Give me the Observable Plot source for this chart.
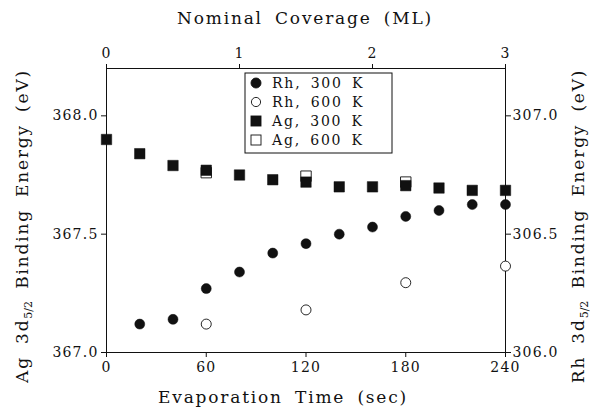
<!DOCTYPE html>
<html>
<head>
<meta charset="utf-8">
<script src="https://cdn.jsdelivr.net/npm/d3@7"></script>
<script src="https://cdn.jsdelivr.net/npm/@observablehq/plot@0.6"></script>
<style>
  html, body { margin: 0; padding: 0; background: #fff; }
  svg { display: block; }
</style>
</head>
<body>
<div id="chart"></div>
<script>
// ---- data ----
const agTime300 = [0, 20, 40, 60, 80, 100, 120, 140, 160, 180, 200, 220, 240];
const ag300     = [367.90, 367.84, 367.79, 367.77, 367.75, 367.73, 367.72, 367.70, 367.70, 367.705, 367.695, 367.685, 367.685];
const agTime600 = [60, 120, 180];
const ag600     = [367.76, 367.745, 367.72];
const rhTime300 = [20, 40, 60, 80, 100, 120, 140, 160, 180, 200, 220, 240];
const rh300     = [306.12, 306.14, 306.27, 306.34, 306.42, 306.46, 306.50, 306.53, 306.575, 306.60, 306.625, 306.625];
const rhTime600 = [60, 120, 180, 240];
const rh600     = [306.12, 306.18, 306.295, 306.365];

const timeTicks = [0, 60, 120, 180, 240];
const coverageTicks = [0, 1, 2, 3];
const secPerML = 80;
const agTicks = [367.0, 367.5, 368.0];
const rhTicks = [306.0, 306.5, 307.0];
const rhOffset = 61; // Rh axis 306.0 aligned with Ag axis 367.0
const legendLabels = ["Rh, 300 K", "Rh, 600 K", "Ag, 300 K", "Ag, 600 K"];

const zip = (xs, ys) => xs.map((t, i) => ({t, v: ys[i]}));
const ag300D = zip(agTime300, ag300);
const ag600D = zip(agTime600, ag600);
const rh300D = zip(rhTime300, rh300).map(d => ({t: d.t, v: d.v + rhOffset}));
const rh600D = zip(rhTime600, rh600).map(d => ({t: d.t, v: d.v + rhOffset}));

const font = "DejaVu Serif";
const ink = "#111";

const chart = Plot.plot({
  width: 600,
  height: 409,
  marginLeft: 106,
  marginRight: 95,
  marginTop: 68,
  marginBottom: 57,
  style: {fontFamily: font, fontSize: "14px", color: ink, background: "#fff", letterSpacing: "1.2px"},
  x: {domain: [0, 240]},
  y: {domain: [367.0, 368.2]},
  marks: [
    Plot.frame({stroke: ink, strokeWidth: 1}),
    Plot.axisX({anchor: "bottom", ticks: timeTicks, tickSize: 5, tickPadding: 5, label: null, stroke: ink}),
    Plot.axisX({anchor: "top", ticks: coverageTicks.map(c => c * secPerML), tickFormat: d => String(d / secPerML), tickSize: 5, tickPadding: 6, label: null}),
    Plot.axisY({anchor: "left", ticks: agTicks, tickFormat: d => d.toFixed(1), tickSize: 5, tickPadding: 3, label: null}),
    Plot.axisY({anchor: "right", ticks: rhTicks.map(r => r + rhOffset), tickFormat: d => (d - rhOffset).toFixed(1), tickSize: 5, tickPadding: 2, label: null}),
    Plot.dot(rh600D, {x: "t", y: "v", r: 5, fill: "#fff", stroke: ink, strokeWidth: 0.9}),
    Plot.dot(rh300D, {x: "t", y: "v", r: 5, fill: ink, stroke: ink, strokeWidth: 0.5}),
    Plot.dot(ag600D, {x: "t", y: "v", r: 5.9, symbol: "square", fill: "#fff", stroke: ink, strokeWidth: 0.9}),
    Plot.dot(ag300D, {x: "t", y: "v", r: 5.9, symbol: "square", fill: ink, stroke: ink, strokeWidth: 0.5})
  ]
});

const svg = d3.select(chart);
const titleStyle = s => s.attr("font-family", font).attr("font-size", 17).attr("fill", ink)
  .attr("letter-spacing", "1.8px").attr("word-spacing", "5px").attr("text-anchor", "middle");

svg.append("text").call(titleStyle).attr("x", 305).attr("y", 24).text("Nominal Coverage (ML)");
svg.append("text").call(titleStyle).attr("x", 283).attr("y", 403).text("Evaporation Time (sec)");

function yLabel(x, prefix) {
  const t = svg.append("text").call(titleStyle)
    .attr("transform", `translate(${x},226) rotate(-90)`);
  t.append("tspan").text(prefix + " 3d");
  t.append("tspan").attr("font-size", 11).attr("dy", 4).attr("letter-spacing", "0px").text("5/2");
  t.append("tspan").attr("dy", -4).text(" Binding Energy (eV)");
}
yLabel(28, "Ag");
yLabel(584, "Rh");

// legend
const lg = svg.append("g").attr("font-family", font).attr("font-size", 14).attr("fill", ink)
  .attr("letter-spacing", "1.8px").attr("word-spacing", "3px").attr("text-anchor", "start");
lg.append("rect").attr("x", 245).attr("y", 73).attr("width", 147).attr("height", 80)
  .attr("fill", "#fff").attr("stroke", ink).attr("stroke-width", 1);
legendLabels.forEach((lab, i) => {
  const cy = 83 + i * 19;
  const filled = i % 2 === 0;
  if (i < 2) {
    lg.append("circle").attr("cx", 256).attr("cy", cy).attr("r", filled ? 5 : 4.6)
      .attr("fill", filled ? ink : "#fff").attr("stroke", ink).attr("stroke-width", 0.9);
  } else {
    lg.append("rect").attr("x", 251).attr("y", cy - 5).attr("width", 10).attr("height", 10)
      .attr("fill", filled ? ink : "#fff").attr("stroke", ink).attr("stroke-width", 0.9);
  }
  lg.append("text").attr("x", 272).attr("y", cy + 5).attr("text-anchor", "start").text(lab);
});

document.getElementById("chart").appendChild(chart);
</script>
</body>
</html>
